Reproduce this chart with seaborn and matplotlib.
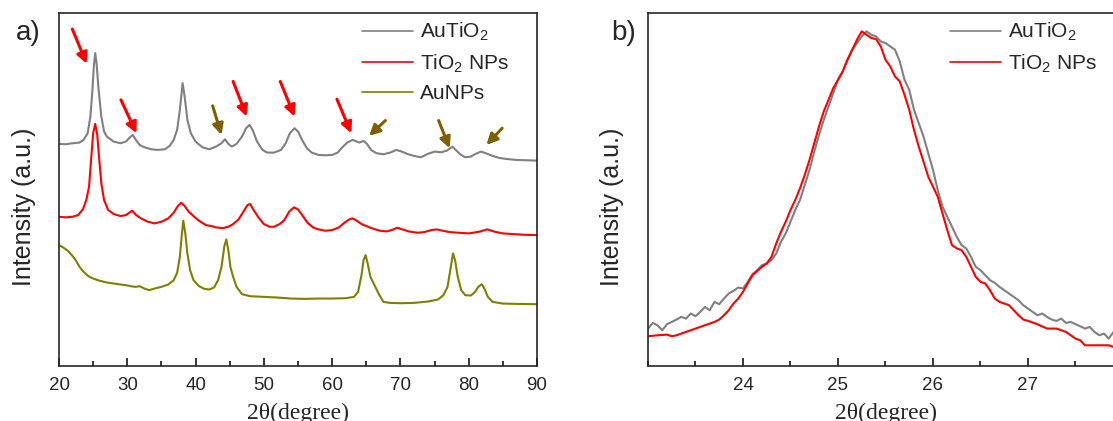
import numpy as np
import pandas as pd
import matplotlib
matplotlib.use("Agg")
import matplotlib.pyplot as plt
import seaborn as sns
from matplotlib.ticker import MultipleLocator

# ---- panel a) full XRD patterns (2theta in degree, intensity in a.u.) ----
au_tio2_x = [20, 21, 22, 23, 23.6, 24.2, 24.6, 24.9, 25.1, 25.3, 25.5, 25.8, 26.2, 26.6, 27, 28, 29, 29.8,
             30.4, 30.8, 31.2, 31.8, 32.5, 33.5, 34.5, 35.5, 36.2, 36.8, 37.3, 37.7, 38.1, 38.4, 38.8, 39.3,
             40, 41, 42, 43, 43.8, 44.3, 44.8, 45.3, 46, 46.8, 47.4, 47.9, 48.4, 49, 49.8, 50.5, 51.5, 52.5,
             53.2, 53.8, 54.5, 55, 55.6, 56.3, 57, 58, 59, 60, 60.8, 61.5, 62.2, 63, 63.6, 64, 64.6, 65.1,
             65.7, 66.5, 67.5, 68.5, 69.4, 70.2, 71, 72, 73, 74, 75, 76, 76.8, 77.6, 78.2, 78.8, 79.5, 80.3,
             81, 81.8, 82.5, 83.5, 84.5, 85.5, 87, 88.5, 90]
au_tio2_y = [665, 664, 667, 669, 677, 697, 747, 827, 897, 937, 907, 827, 747, 702, 687, 672, 667, 672,
             685, 692, 679, 662, 655, 649, 647, 649, 659, 677, 707, 767, 847, 807, 737, 697,
             672, 655, 649, 657, 667, 679, 665, 657, 665, 687, 712, 722, 705, 672, 647, 639, 639, 647,
             667, 697, 712, 702, 677, 652, 639, 632, 631, 632, 639, 655, 669, 677, 672, 669, 674, 665,
             647, 637, 634, 639, 647, 642, 635, 629, 625, 635, 642, 640, 645, 657, 645, 633, 625, 627,
             635, 642, 637, 629, 623, 620, 617, 616, 615]

tio2_x = [20, 21, 22, 22.8, 23.5, 24, 24.4, 24.7, 25, 25.3, 25.6, 25.9, 26.2, 26.6, 27.2, 28, 29, 29.8,
          30.7, 31.3, 32, 33, 34, 35, 36, 36.8, 37.4, 37.9, 38.4, 39, 39.8, 40.5, 41.5, 42.3, 43, 44,
          44.8, 45.5, 46.3, 47, 47.6, 48, 48.5, 49.2, 50, 50.8, 51.5, 52.3, 53, 53.7, 54.4, 55, 55.6,
          56.4, 57.2, 58, 59, 60, 61, 61.8, 62.5, 63, 63.6, 64.3, 65, 66, 67, 68, 69, 69.5, 70.3, 71.2,
          72.5, 73.5, 74.5, 75.3, 76.2, 77.2, 78.5, 80, 81.5, 82.7, 83.8, 85, 86.5, 88, 90]
tio2_y = [447, 445, 447, 452, 469, 497, 537, 617, 697, 725, 692, 617, 547, 497, 467, 455, 449, 452,
          465, 452, 442, 432, 427, 432, 442, 459, 479, 489, 479, 462, 447, 435, 422, 419, 415, 413,
          417, 425, 439, 462, 482, 485, 467, 445, 425, 417, 417, 425, 437, 462, 475, 469, 452,
          429, 415, 409, 405, 407, 415, 429, 439, 442, 435, 425, 419, 411, 405, 403, 409, 414, 409, 403,
          399, 401, 407, 409, 405, 401, 399, 397, 402, 409, 402, 397, 395, 393, 392]

au_x = [20, 20.6, 21.3, 22, 22.5, 23, 23.6, 24.3, 25, 26, 27, 28, 29, 29.8, 30.5, 31.2, 31.8, 32.5,
        33.2, 34, 35, 36, 36.8, 37.3, 37.7, 38, 38.2, 38.5, 38.8, 39.2, 39.7, 40.5, 41.3, 42, 42.7,
        43.3, 43.8, 44.2, 44.5, 44.8, 45.1, 45.5, 46, 46.8, 48, 50, 52, 54, 56, 58, 60, 62, 63.2, 63.8,
        64.3, 64.6, 64.9, 65.2, 65.6, 66.2, 66.8, 67.5, 68.5, 70, 72, 74, 75.5, 76.3, 76.9, 77.3, 77.7,
        78, 78.4, 78.9, 79.5, 80.3, 80.9, 81.4, 81.9, 82.3, 82.8, 83.5, 85, 87, 90]
au_y = [362, 355, 345, 329, 315, 297, 282, 269, 262, 255, 250, 247, 244, 242, 239, 237, 239, 232,
        227, 232, 237, 244, 257, 279, 327, 397, 435, 397, 337, 287, 257, 239, 231, 229, 235,
        257, 297, 357, 379, 347, 297, 267, 237, 215, 209, 207, 205, 202, 201, 202, 202, 203, 207, 222,
        272, 317, 332, 307, 267, 242, 217, 192, 189, 188, 189, 193, 199, 212, 237, 287, 337,
        317, 267, 227, 212, 211, 221, 237, 245, 232, 207, 192, 187, 186, 185]

# arrows: (tail x, tail y, head x, head y)
red_arrows = [(21.95, 1009, 24.05, 905), (29.07, 797, 31.34, 697), (45.5, 852, 47.5, 747),
              (52.4, 852, 54.5, 747), (60.7, 799, 62.8, 697)]
brown_arrows = [(42.5, 779, 43.8, 692), (67.8, 735, 65.4, 689), (75.6, 735, 77.2, 652),
                (84.9, 712, 82.6, 662)]

# ---- panel b) zoom on the (101) anatase peak ----
zoom_au_x = [23.00, 23.05, 23.10, 23.15, 23.20, 23.25, 23.30, 23.35, 23.40, 23.45, 23.50, 23.55, 23.60,
             23.65, 23.70, 23.75, 23.80, 23.85, 23.90, 23.95, 24.00, 24.05, 24.10, 24.15, 24.20, 24.25,
             24.30, 24.35, 24.40, 24.45, 24.50, 24.55, 24.60, 24.65, 24.70, 24.75, 24.80, 24.85, 24.90,
             24.95, 25.00, 25.05, 25.10, 25.15, 25.20, 25.25, 25.30, 25.35, 25.40, 25.45, 25.50, 25.55,
             25.60, 25.65, 25.70, 25.75, 25.80, 25.85, 25.90, 25.95, 26.00, 26.05, 26.10, 26.15, 26.20,
             26.25, 26.30, 26.35, 26.40, 26.45, 26.50, 26.55, 26.60, 26.65, 26.70, 26.75, 26.80, 26.85,
             26.90, 26.95, 27.00, 27.05, 27.10, 27.15, 27.20, 27.25, 27.30, 27.35, 27.40, 27.45, 27.50,
             27.55, 27.60, 27.65, 27.70, 27.75, 27.80, 27.85, 27.90, 27.95, 28.00]
zoom_au_y = [112, 129, 122, 107, 125, 132, 139, 147, 142, 157, 149, 162, 177, 167, 192, 185, 202, 217,
             225, 235, 232, 252, 275, 287, 302, 307, 317, 337, 372, 397, 432, 467, 497, 542, 587, 642,
             692, 737, 777, 817, 857, 882, 917, 947, 967, 987, 1002, 992, 987, 972, 967, 957, 947, 912,
             857, 827, 767, 727, 687, 637, 587, 527, 477, 447, 417, 387, 362, 352, 327, 297, 287, 272,
             257, 249, 237, 227, 217, 207, 197, 182, 172, 162, 152, 157, 147, 139, 135, 142, 129, 132,
             125, 119, 112, 117, 102, 92, 97, 82, 102, 112, 107]

zoom_tio2_x = [23.00, 23.10, 23.20, 23.25, 23.30, 23.40, 23.50, 23.60, 23.70, 23.75, 23.80, 23.85, 23.90,
               23.95, 24.00, 24.05, 24.10, 24.20, 24.25, 24.30, 24.35, 24.40, 24.45, 24.50, 24.55, 24.60,
               24.65, 24.70, 24.75, 24.80, 24.85, 24.90, 24.95, 25.00, 25.05, 25.10, 25.15, 25.20, 25.25,
               25.30, 25.35, 25.40, 25.45, 25.50, 25.55, 25.60, 25.65, 25.70, 25.75, 25.80, 25.85, 25.90,
               25.95, 26.00, 26.05, 26.10, 26.15, 26.20, 26.25, 26.30, 26.35, 26.40, 26.45, 26.50, 26.55,
               26.60, 26.65, 26.70, 26.75, 26.80, 26.85, 26.90, 26.95, 27.00, 27.10, 27.20, 27.30, 27.40,
               27.45, 27.50, 27.55, 27.60, 27.65, 27.70, 27.80, 27.85, 27.90, 28.00]
zoom_tio2_y = [89, 92, 94, 89, 92, 102, 112, 122, 132, 139, 152, 167, 187, 202, 222, 247, 272, 297, 307,
               327, 367, 402, 432, 467, 497, 532, 572, 617, 667, 717, 762, 797, 832, 857, 882, 917, 947,
               977, 1002, 992, 982, 979, 957, 917, 897, 867, 852, 812, 767, 707, 657, 612, 567, 537, 507,
               457, 407, 362, 352, 347, 327, 297, 267, 252, 247, 227, 202, 192, 187, 182, 167, 152, 139,
               135, 125, 112, 112, 102, 92, 82, 77, 62, 62, 62, 62, 62, 57, 52]

label_au_tio2 = "AuTiO$_2$"
label_tio2 = "TiO$_2$ NPs"
label_au = "AuNPs"

c_gray, c_red, c_olive, c_brown = "#808080", "#ff0000", "#808000", "#7f6000"

sns.set_style("ticks")
plt.rcParams["font.family"] = ["Liberation Sans", "DejaVu Sans"]
plt.rcParams["mathtext.fontset"] = "custom"
plt.rcParams["mathtext.rm"] = "Liberation Sans"
plt.rcParams["mathtext.it"] = "Liberation Sans:italic"

W, H = 1113, 421
fig = plt.figure(figsize=(W / 100, H / 100), dpi=100)
ax_a = fig.add_axes([59 / W, (H - 366) / H, 478 / W, 353 / H])
ax_b = fig.add_axes([648 / W, (H - 366) / H, 475 / W, 353 / H])

df_a = pd.concat([
    pd.DataFrame({"x": au_tio2_x, "y": au_tio2_y, "s": label_au_tio2}),
    pd.DataFrame({"x": tio2_x, "y": tio2_y, "s": label_tio2}),
    pd.DataFrame({"x": au_x, "y": au_y, "s": label_au}),
])
sns.lineplot(data=df_a, x="x", y="y", hue="s", estimator=None, sort=False, ax=ax_a,
             palette=[c_gray, c_red, c_olive], linewidth=1.5)

df_b = pd.concat([
    pd.DataFrame({"x": zoom_au_x, "y": zoom_au_y, "s": label_au_tio2}),
    pd.DataFrame({"x": zoom_tio2_x, "y": zoom_tio2_y, "s": label_tio2}),
])
sns.lineplot(data=df_b, x="x", y="y", hue="s", estimator=None, sort=False, ax=ax_b,
             palette=[c_gray, c_red], linewidth=1.5)

for tx, ty, hx, hy in red_arrows:
    ax_a.annotate("", xy=(hx, hy), xytext=(tx, ty),
                  arrowprops=dict(arrowstyle="-|>", color=c_red, lw=2.2, mutation_scale=16,
                                  shrinkA=0, shrinkB=0))
for tx, ty, hx, hy in brown_arrows:
    ax_a.annotate("", xy=(hx, hy), xytext=(tx, ty),
                  arrowprops=dict(arrowstyle="-|>", color=c_brown, lw=2.2, mutation_scale=16,
                                  shrinkA=0, shrinkB=0))

ax_a.set_xlim(20, 90)
ax_a.set_ylim(0, 1057)
ax_a.xaxis.set_major_locator(MultipleLocator(10))
ax_a.xaxis.set_minor_locator(MultipleLocator(5))
ax_b.set_xlim(23, 28)
ax_b.set_ylim(0, 1057)
ax_b.xaxis.set_major_locator(MultipleLocator(1))
ax_b.xaxis.set_minor_locator(MultipleLocator(0.5))
ax_b.set_xticks([24, 25, 26, 27])

for ax in (ax_a, ax_b):
    ax.set_yticks([])
    ax.set_ylabel("")
    ax.tick_params(axis="x", which="major", direction="in", length=6, width=1.3, pad=8, labelsize=13.5)
    ax.tick_params(axis="x", which="minor", direction="in", length=3.5, width=1.3)
    for sp in ax.spines.values():
        sp.set_linewidth(1.2)
        sp.set_visible(True)
    ax.set_xlabel("2θ(degree)", fontsize=17, family=["Liberation Serif", "DejaVu Serif"], labelpad=6)
    leg = ax.legend(frameon=False, fontsize=15, handlelength=2.45, handletextpad=0.35,
                    labelspacing=0.45, loc="upper left", borderpad=0, borderaxespad=0)
    for line in leg.get_lines():
        line.set_linewidth(1.2)

ax_a.get_legend().set_bbox_to_anchor((362 / W, 1 - 21 / H), transform=fig.transFigure)
ax_b.get_legend().set_bbox_to_anchor((950 / W, 1 - 21 / H), transform=fig.transFigure)

fig.text(24 / W, 1 - 207 / H, "Intensity (a.u.)", rotation=90, ha="center", va="center", fontsize=18)
fig.text(612 / W, 1 - 207 / H, "Intensity (a.u.)", rotation=90, ha="center", va="center", fontsize=18)
fig.text(16 / W, 1 - 33 / H, "a)", ha="left", va="center", fontsize=20)
fig.text(611 / W, 1 - 33 / H, "b)", ha="left", va="center", fontsize=20)

fig.savefig("out.png", dpi=100)
